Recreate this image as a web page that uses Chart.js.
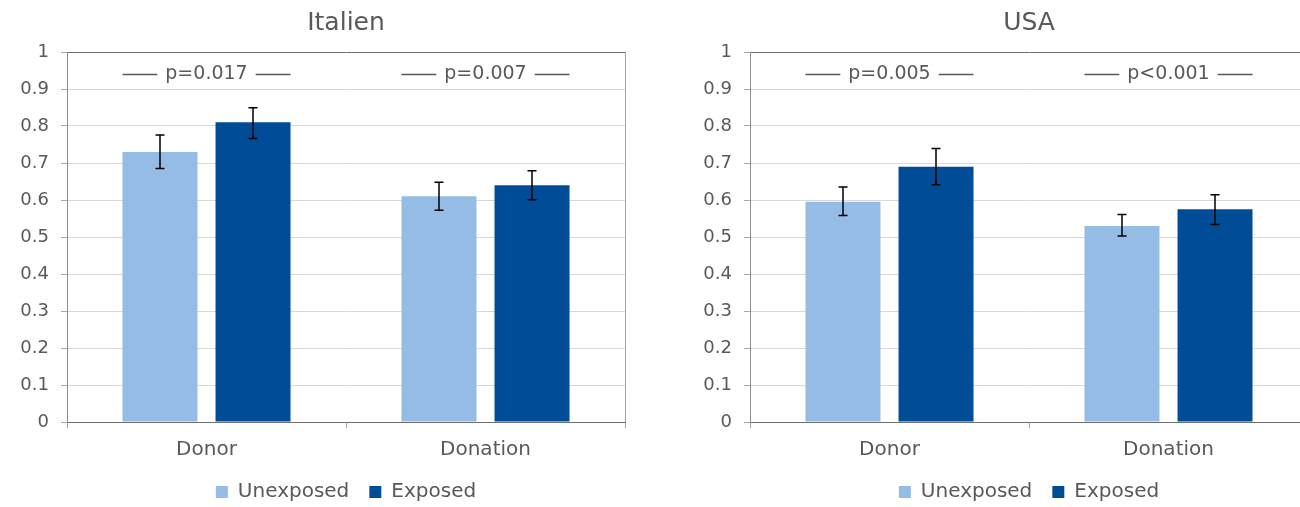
<!DOCTYPE html>
<html><head><meta charset="utf-8">
<script src="https://cdn.jsdelivr.net/npm/chart.js@4.4.1/dist/chart.umd.min.js"></script>
<style>
html,body{margin:0;padding:0;background:#fff;}
#wrap{position:relative;width:1300px;height:507px;overflow:hidden;background:#fff;}
canvas{position:absolute;top:0;}
</style></head><body>
<div id="wrap">
<canvas id="c1" width="690" height="507" style="left:0px"></canvas>
<canvas id="c2" width="690" height="507" style="left:683px"></canvas>
</div>
<script>
// ---- data ----
const categories = ['Donor', 'Donation'];
const seriesNames = ['Unexposed', 'Exposed'];
const yTickLabels = ['0','0.1','0.2','0.3','0.4','0.5','0.6','0.7','0.8','0.9','1'];

const italyTitle = 'Italien';
const italyUnexposed = [0.73, 0.61];
const italyExposed = [0.81, 0.64];
const italyUnexposedLow = [0.685, 0.572];
const italyUnexposedHigh = [0.776, 0.648];
const italyExposedLow = [0.766, 0.601];
const italyExposedHigh = [0.849, 0.679];
const italyP = ['p=0.017', 'p=0.007'];

const usaTitle = 'USA';
const usaUnexposed = [0.595, 0.53];
const usaExposed = [0.69, 0.575];
const usaUnexposedLow = [0.558, 0.503];
const usaUnexposedHigh = [0.635, 0.561];
const usaExposedLow = [0.641, 0.534];
const usaExposedHigh = [0.739, 0.614];
const usaP = ['p=0.005', 'p<0.001'];

const pLevel = 0.94;

// ---- style ----
const FONT = "'DejaVu Sans', sans-serif";
const TEXT = '#595959';
const LIGHT = '#95BCE4';
const DARK = '#004C97';

const extrasPlugin = {
  id: 'extras',
  afterDatasetsDraw(chart, args, opts) {
    const ctx = chart.ctx;
    const ys = chart.scales.y;
    const xs = chart.scales.x;
    const ca = chart.chartArea;
    ctx.save();
    // right border
    ctx.strokeStyle = '#a6a6a6';
    ctx.lineWidth = 1;
    ctx.beginPath();
    ctx.moveTo(Math.round(ca.right) + 0.5, ca.top);
    ctx.lineTo(Math.round(ca.right) + 0.5, ca.bottom);
    ctx.stroke();
    // error bars
    ctx.strokeStyle = '#000';
    ctx.lineWidth = 1.5;
    opts.errors.forEach((err, di) => {
      const meta = chart.getDatasetMeta(di);
      meta.data.forEach((bar, i) => {
        const x = Math.round(bar.x);
        const yl = ys.getPixelForValue(err.low[i]);
        const yh = ys.getPixelForValue(err.high[i]);
        ctx.beginPath();
        ctx.moveTo(x, yh); ctx.lineTo(x, yl);
        ctx.moveTo(x - 4.5, yh); ctx.lineTo(x + 4.5, yh);
        ctx.moveTo(x - 4.5, yl); ctx.lineTo(x + 4.5, yl);
        ctx.stroke();
      });
    });
    // p-value annotations
    const m0 = chart.getDatasetMeta(0), m1 = chart.getDatasetMeta(1);
    ctx.font = "19px " + FONT;
    ctx.fillStyle = TEXT;
    ctx.strokeStyle = TEXT;
    ctx.lineWidth = 1.5;
    ctx.textAlign = 'center';
    ctx.textBaseline = 'middle';
    opts.pLabels.forEach((txt, i) => {
      const b0 = m0.data[i], b1 = m1.data[i];
      const left = b0.x - b0.width / 2;
      const right = b1.x + b1.width / 2;
      const cx = xs.getPixelForValue(i);
      const py = Math.round(ys.getPixelForValue(pLevel)) + 0.5;
      const w = ctx.measureText(txt).width;
      ctx.fillText(txt, cx, py);
      ctx.beginPath();
      ctx.moveTo(left, py); ctx.lineTo(cx - w / 2 - 8, py);
      ctx.moveTo(cx + w / 2 + 8, py); ctx.lineTo(right, py);
      ctx.stroke();
    });
    ctx.restore();
  }
};

function makeChart(id, title, unexp, exp, uLow, uHigh, eLow, eHigh, pLabels) {
  return new Chart(document.getElementById(id), {
    type: 'bar',
    data: {
      labels: categories,
      datasets: [
        { label: seriesNames[0], data: unexp, backgroundColor: LIGHT, borderWidth: 0, inflateAmount: 0,
          categoryPercentage: 0.667, barPercentage: 0.806 },
        { label: seriesNames[1], data: exp, backgroundColor: DARK, borderWidth: 0, inflateAmount: 0,
          categoryPercentage: 0.667, barPercentage: 0.806 }
      ]
    },
    options: {
      responsive: false,
      animation: false,
      devicePixelRatio: 1,
      layout: { padding: { top: 0, right: 65, bottom: -5, left: 0 } },
      scales: {
        x: {
          offset: true,
          afterFit(scale) { scale.height = 40; },
          grid: { offset: true, drawOnChartArea: false, drawTicks: true, tickLength: 6, color: '#a6a6a6' },
          border: { display: true, color: '#6e6e6e', width: 1 },
          ticks: { color: TEXT, font: { family: FONT, size: 20 }, padding: 10 }
        },
        y: {
          min: 0, max: 1,
          afterFit(scale) { scale.width = 67; },
          grid: {
            color: (c) => (c.tick && c.tick.value >= 0.999 ? '#6e6e6e' : '#d9d9d9'),
            tickColor: '#a6a6a6', tickLength: 6, drawTicks: true
          },
          border: { display: true, color: '#8c8c8c', width: 1 },
          ticks: {
            stepSize: 0.1, color: TEXT, padding: 12,
            font: { family: FONT, size: 18 },
            callback: (v, i) => yTickLabels[i]
          }
        }
      },
      plugins: {
        title: { display: true, text: title, fullSize: false, color: TEXT,
          font: { family: FONT, size: 25, weight: 'normal' }, padding: { top: 8, bottom: 14 } },
        legend: { position: 'bottom', fullSize: false,
          labels: { color: TEXT, font: { family: FONT, size: 20 }, boxWidth: 12, boxHeight: 12, padding: 20 } },
        tooltip: { enabled: false },
        extras: {
          errors: [ { low: uLow, high: uHigh }, { low: eLow, high: eHigh } ],
          pLabels: pLabels
        }
      }
    },
    plugins: [extrasPlugin]
  });
}

makeChart('c1', italyTitle, italyUnexposed, italyExposed, italyUnexposedLow, italyUnexposedHigh, italyExposedLow, italyExposedHigh, italyP);
makeChart('c2', usaTitle, usaUnexposed, usaExposed, usaUnexposedLow, usaUnexposedHigh, usaExposedLow, usaExposedHigh, usaP);
</script>
</body></html>
